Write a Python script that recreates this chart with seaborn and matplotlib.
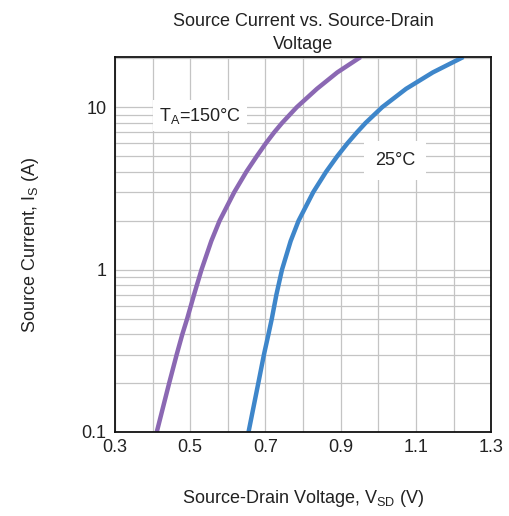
import numpy as np
import pandas as pd
import matplotlib
matplotlib.use("Agg")
import matplotlib.pyplot as plt
import seaborn as sns

# ----------------------------------------------------------
# DATA
# ----------------------------------------------------------
current = [0.1, 0.2, 0.3, 0.4, 0.5, 0.7, 1.0, 1.5, 2.0, 3.0, 4.0, 5.0, 6.0, 7.0, 8.0,
           10.0, 13.0, 16.4, 20.4]
vsd_150 = [0.411, 0.444, 0.464, 0.479, 0.492, 0.510, 0.530, 0.556, 0.578, 0.617, 0.649,
           0.677, 0.701, 0.723, 0.744, 0.783, 0.837, 0.891, 0.953]
vsd_25 = [0.655, 0.681, 0.696, 0.708, 0.717, 0.729, 0.744, 0.767, 0.788, 0.827, 0.861,
          0.891, 0.918, 0.943, 0.966, 1.010, 1.074, 1.145, 1.226]

series_names = ["150", "25"]
series_colors = ["#8B68B3", "#3E86CA"]

x_ticks = [0.3, 0.5, 0.7, 0.9, 1.1, 1.3]
y_ticks = [0.1, 1, 10]
y_ticklabels = ["0.1", "1", "10"]

df = pd.DataFrame({
    "vsd": vsd_150 + vsd_25,
    "is": current + current,
    "temp": ["150"] * len(vsd_150) + ["25"] * len(vsd_25),
})

# ----------------------------------------------------------
# PLOT
# ----------------------------------------------------------
sns.set_style("white")
plt.rcParams["font.family"] = ["Liberation Sans", "DejaVu Sans"]

fig = plt.figure(figsize=(5.1, 5.16), dpi=100)
ax = fig.add_axes([0.2255, 0.1628, 0.7375, 0.7267])

ax.set_yscale("log")
ax.set_xlim(0.3, 1.3)
ax.set_ylim(0.1, 20.4)

# grid
ax.set_xticks(np.arange(0.3, 1.31, 0.1), minor=True)
ax.grid(True, which="both", axis="both", color="#c4c4c4", lw=0.9)
ax.set_axisbelow(True)

sns.lineplot(data=df, x="vsd", y="is", hue="temp", hue_order=series_names,
             palette=series_colors, lw=3.2, sort=False, estimator=None,
             legend=False, ax=ax)
for ln in ax.lines:
    ln.set_solid_joinstyle("round")
    ln.set_solid_capstyle("butt")

ax.set_xticks(x_ticks)
ax.set_xticklabels([f"{t:.1f}" for t in x_ticks])
ax.set_yticks(y_ticks)
ax.set_yticklabels(y_ticklabels)
ax.tick_params(axis="both", which="both", length=0, labelsize=13, colors="#222222")
ax.tick_params(axis="x", pad=5)
ax.tick_params(axis="y", pad=6)

for s in ax.spines.values():
    s.set_color("#111111")
    s.set_linewidth(1.3)

ax.text(0.526, 8.9, "T$_\\mathregular{A}$=150°C", ha="center", va="center",
        fontsize=13, color="#222222",
        bbox=dict(facecolor="white", edgecolor="none", pad=4))
ax.text(1.045, 4.7, "25°C", ha="center", va="center", fontsize=13,
        color="#222222",
        bbox=dict(boxstyle="square,pad=0.6", facecolor="white", edgecolor="none"))

ax.set_title("Source Current vs. Source-Drain\nVoltage", fontsize=13,
             color="#222222", pad=6, linespacing=1.45)
ax.set_xlabel("Source-Drain Voltage, V$_\\mathregular{SD}$ (V)", fontsize=13,
              color="#222222", labelpad=23)
ax.set_ylabel("Source Current, I$_\\mathregular{S}$ (A)", fontsize=13,
              color="#222222", labelpad=29)

fig.savefig("out.png", dpi=100)
